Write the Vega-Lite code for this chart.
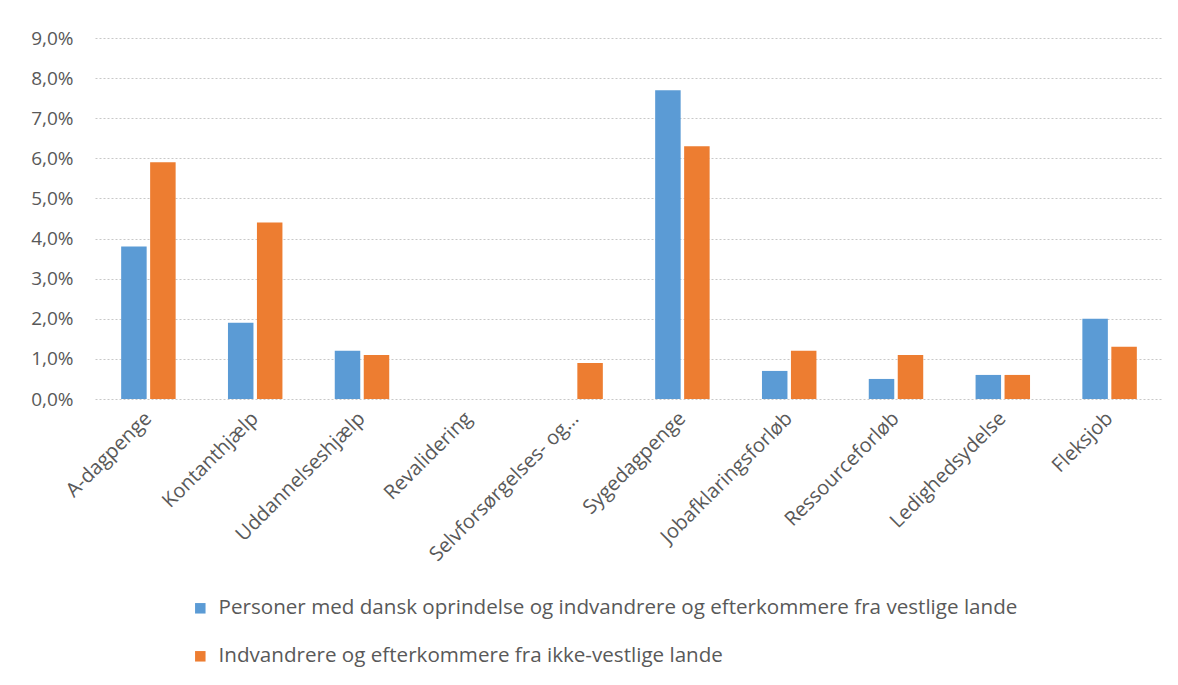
{
  "$schema": "https://vega.github.io/schema/vega-lite/v6.json",
  "autosize": {"type": "none"},
  "padding": {"left": 95, "top": 38, "right": 15, "bottom": 286},
  "width": 1068,
  "height": 361,
  "background": "white",
  "data": {
    "values": [
      {"ydelse": "A-dagpenge", "gruppe": "Personer med dansk oprindelse og indvandrere og efterkommere fra vestlige lande", "andel": 0.038},
      {"ydelse": "A-dagpenge", "gruppe": "Indvandrere og efterkommere fra ikke-vestlige lande", "andel": 0.059},
      {"ydelse": "Kontanthjælp", "gruppe": "Personer med dansk oprindelse og indvandrere og efterkommere fra vestlige lande", "andel": 0.019},
      {"ydelse": "Kontanthjælp", "gruppe": "Indvandrere og efterkommere fra ikke-vestlige lande", "andel": 0.044},
      {"ydelse": "Uddannelseshjælp", "gruppe": "Personer med dansk oprindelse og indvandrere og efterkommere fra vestlige lande", "andel": 0.012},
      {"ydelse": "Uddannelseshjælp", "gruppe": "Indvandrere og efterkommere fra ikke-vestlige lande", "andel": 0.011},
      {"ydelse": "Revalidering", "gruppe": "Personer med dansk oprindelse og indvandrere og efterkommere fra vestlige lande", "andel": 0.0},
      {"ydelse": "Revalidering", "gruppe": "Indvandrere og efterkommere fra ikke-vestlige lande", "andel": 0.0},
      {"ydelse": "Selvforsørgelses- og…", "gruppe": "Personer med dansk oprindelse og indvandrere og efterkommere fra vestlige lande", "andel": 0.0},
      {"ydelse": "Selvforsørgelses- og…", "gruppe": "Indvandrere og efterkommere fra ikke-vestlige lande", "andel": 0.009},
      {"ydelse": "Sygedagpenge", "gruppe": "Personer med dansk oprindelse og indvandrere og efterkommere fra vestlige lande", "andel": 0.077},
      {"ydelse": "Sygedagpenge", "gruppe": "Indvandrere og efterkommere fra ikke-vestlige lande", "andel": 0.063},
      {"ydelse": "Jobafklaringsforløb", "gruppe": "Personer med dansk oprindelse og indvandrere og efterkommere fra vestlige lande", "andel": 0.007},
      {"ydelse": "Jobafklaringsforløb", "gruppe": "Indvandrere og efterkommere fra ikke-vestlige lande", "andel": 0.012},
      {"ydelse": "Ressourceforløb", "gruppe": "Personer med dansk oprindelse og indvandrere og efterkommere fra vestlige lande", "andel": 0.005},
      {"ydelse": "Ressourceforløb", "gruppe": "Indvandrere og efterkommere fra ikke-vestlige lande", "andel": 0.011},
      {"ydelse": "Ledighedsydelse", "gruppe": "Personer med dansk oprindelse og indvandrere og efterkommere fra vestlige lande", "andel": 0.006},
      {"ydelse": "Ledighedsydelse", "gruppe": "Indvandrere og efterkommere fra ikke-vestlige lande", "andel": 0.006},
      {"ydelse": "Fleksjob", "gruppe": "Personer med dansk oprindelse og indvandrere og efterkommere fra vestlige lande", "andel": 0.02},
      {"ydelse": "Fleksjob", "gruppe": "Indvandrere og efterkommere fra ikke-vestlige lande", "andel": 0.013}
    ]
  },
  "mark": {"type": "bar"},
  "encoding": {
    "x": {
      "field": "ydelse",
      "type": "nominal",
      "sort": null,
      "scale": {"paddingInner": 0.49, "paddingOuter": 0.245},
      "axis": {
        "title": null,
        "labelAngle": -45,
        "labelAlign": "right",
        "labelBaseline": "middle",
        "labelPadding": 16,
        "labelFont": "Open Sans",
        "labelFontSize": 20,
        "labelColor": "#595959",
        "labelLimit": 400,
        "ticks": false,
        "domain": false,
        "grid": false
      }
    },
    "xOffset": {
      "field": "gruppe",
      "type": "nominal",
      "sort": ["Personer med dansk oprindelse og indvandrere og efterkommere fra vestlige lande", "Indvandrere og efterkommere fra ikke-vestlige lande"],
      "scale": {"paddingInner": 0.12}
    },
    "y": {
      "field": "andel",
      "type": "quantitative",
      "scale": {"domain": [0, 0.09], "nice": false},
      "axis": {
        "title": null,
        "values": [0, 0.01, 0.02, 0.03, 0.04, 0.05, 0.06, 0.07, 0.08, 0.09],
        "labelExpr": "replace(format(datum.value, '.1%'), '.', ',')",
        "labelFont": "Open Sans",
        "labelFontSize": 19,
        "labelColor": "#595959",
        "labelPadding": 22,
        "ticks": false,
        "domain": false,
        "grid": true,
        "gridColor": "#c8c8c8",
        "gridDash": [2, 2],
        "gridWidth": 1
      }
    },
    "color": {
      "field": "gruppe",
      "type": "nominal",
      "sort": ["Personer med dansk oprindelse og indvandrere og efterkommere fra vestlige lande", "Indvandrere og efterkommere fra ikke-vestlige lande"],
      "scale": {"range": ["#5B9BD5", "#ED7D31"]},
      "legend": {
        "title": null,
        "orient": "none",
        "legendX": 95,
        "legendY": 560,
        "direction": "vertical",
        "symbolType": "square",
        "symbolSize": 110,
        "symbolStrokeWidth": 0,
        "labelFont": "Open Sans",
        "labelFontSize": 20.6,
        "labelColor": "#595959",
        "labelOffset": 8,
        "labelLimit": 1000,
        "rowPadding": 27,
        "padding": 0
      }
    }
  },
  "config": {
    "view": {"stroke": null}
  }
}
